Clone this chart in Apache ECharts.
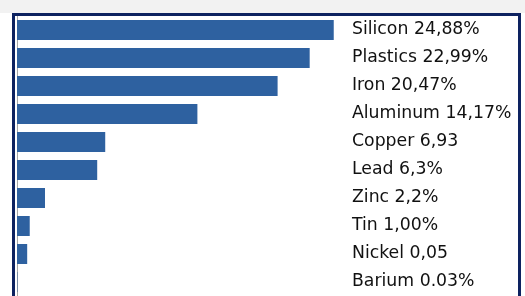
<!DOCTYPE html>
<html>
<head>
<meta charset="utf-8">
<script src="https://cdn.jsdelivr.net/npm/echarts@6/dist/echarts.min.js"></script>
<style>
  html, body { margin: 0; padding: 0; background: #fff; }
  #chart { width: 525px; height: 296px; }
</style>
</head>
<body>
<div id="chart"></div>
<script>
// materials, top to bottom
var materials = ['Silicon', 'Plastics', 'Iron', 'Aluminum', 'Copper', 'Lead', 'Zinc', 'Tin', 'Nickel', 'Barium'];
// text written after each name, as printed
var shareText = ['24,88%', '22,99%', '20,47%', '14,17%', '6,93', '6,3%', '2,2%', '1,00%', '0,05', '0.03%'];
// bar lengths (percent)
var shareValues = [24.88, 22.99, 20.47, 14.17, 6.93, 6.3, 2.2, 1.0, 0.8, 0.03];

var labels = materials.map(function (m, i) { return m + ' ' + shareText[i]; });

var chart = echarts.init(document.getElementById('chart'));
var option = {
  backgroundColor: '#ffffff',
  animation: false,
  graphic: [
    { type: 'rect', shape: { x: 0, y: 0, width: 525, height: 13 }, style: { fill: '#f2f2f2' }, z: -1 },
    { type: 'rect', shape: { x: 13.5, y: 14.5, width: 506, height: 300 }, style: { fill: 'none', stroke: '#0d2260', lineWidth: 3 }, z: 10 }
  ],
  grid: { left: 17, top: 16, width: 331, height: 281 },
  xAxis: {
    type: 'value',
    min: 0,
    max: 26,
    show: false
  },
  yAxis: [{
    type: 'category',
    data: materials,
    inverse: true,
    position: 'left',
    axisLine: { show: true, lineStyle: { color: '#a6a6a6', width: 1 } },
    axisTick: { show: false },
    axisLabel: { show: false }
  }, {
    type: 'category',
    data: labels,
    inverse: true,
    position: 'right',
    axisLine: { show: false },
    axisTick: { show: false },
    axisLabel: {
      margin: 4,
      color: '#111111',
      fontFamily: 'DejaVu Sans',
      fontSize: 17.3,
      align: 'left'
    }
  }],
  series: [{
    type: 'bar',
    yAxisIndex: 0,
    data: shareValues,
    barWidth: 20,
    itemStyle: { color: '#2e61a0' }
  }]
};
chart.setOption(option);
</script>
</body>
</html>
